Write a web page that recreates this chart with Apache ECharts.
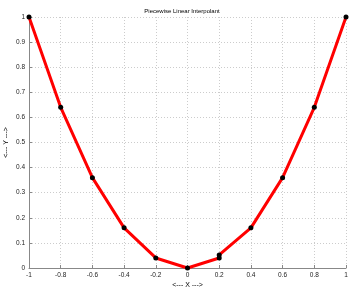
<!DOCTYPE html>
<html>
<head>
<meta charset="utf-8">
<script src="https://cdn.jsdelivr.net/npm/echarts@6/dist/echarts.min.js"></script>
<style>
  html, body { margin: 0; padding: 0; background: #fff; }
  #chart { width: 349px; height: 290px; }
</style>
</head>
<body>
<div id="chart"></div>
<script>
// data points (x, y)
const xValues = [-1, -0.8, -0.6, -0.4, -0.2, 0, 0.2, 0.2, 0.4, 0.6, 0.8, 1];
const yValues = [1, 0.64, 0.36, 0.16, 0.04, 0, 0.04, 0.052, 0.16, 0.36, 0.64, 1];

const chart = echarts.init(document.getElementById("chart"));
const font = "Liberation Sans, Arial, sans-serif";
const points = xValues.map((x, i) => [x, yValues[i]]);

const option = {
  animation: false,
  title: {
    text: "Piecewise Linear Interpolant",
    left: 177,
    top: 3,
    textAlign: "center",
    textStyle: { fontSize: 6, fontWeight: "normal", color: "#000", fontFamily: font },
  },
  grid: { left: 29, right: 3, top: 17, bottom: 22, containLabel: false, outerBoundsMode: "none" },
  xAxis: {
    type: "value",
    min: -1,
    max: 1,
    interval: 0.2,
    name: "<--- X --->",
    nameLocation: "middle",
    nameGap: 14,
    nameMoveOverlap: false,
    nameTextStyle: { fontSize: 7, color: "#000", fontFamily: font },
    axisLine: { onZero: false, lineStyle: { color: "#888" } },
    axisTick: { inside: true, length: 3, lineStyle: { color: "#888" } },
    axisLabel: {
      fontSize: 6.5, color: "#222", fontFamily: font, margin: 4,
      formatter: (v) => String(Math.round(v * 10) / 10),
    },
    splitLine: { show: true, lineStyle: { color: "#ccc", type: [1, 2] } },
  },
  yAxis: {
    type: "value",
    min: 0,
    max: 1,
    interval: 0.1,
    name: "<--- Y --->",
    nameLocation: "middle",
    nameGap: 19,
    nameMoveOverlap: false,
    nameTextStyle: { fontSize: 7, color: "#000", fontFamily: font },
    axisLine: { show: true, onZero: false, lineStyle: { color: "#888" } },
    axisTick: { show: true, inside: true, length: 3, lineStyle: { color: "#888" } },
    axisLabel: {
      fontSize: 6.5, color: "#222", fontFamily: font, margin: 4,
      formatter: (v) => String(Math.round(v * 10) / 10),
    },
    splitLine: { show: true, lineStyle: { color: "#ccc", type: [1, 2] } },
  },
  series: [
    {
      type: "line",
      data: points,
      lineStyle: { color: "#ff0000", width: 3 },
      symbol: "circle",
      symbolSize: 5,
      itemStyle: { color: "#000" },
      z: 3,
    },
  ],
};
chart.setOption(option);
</script>
</body>
</html>
